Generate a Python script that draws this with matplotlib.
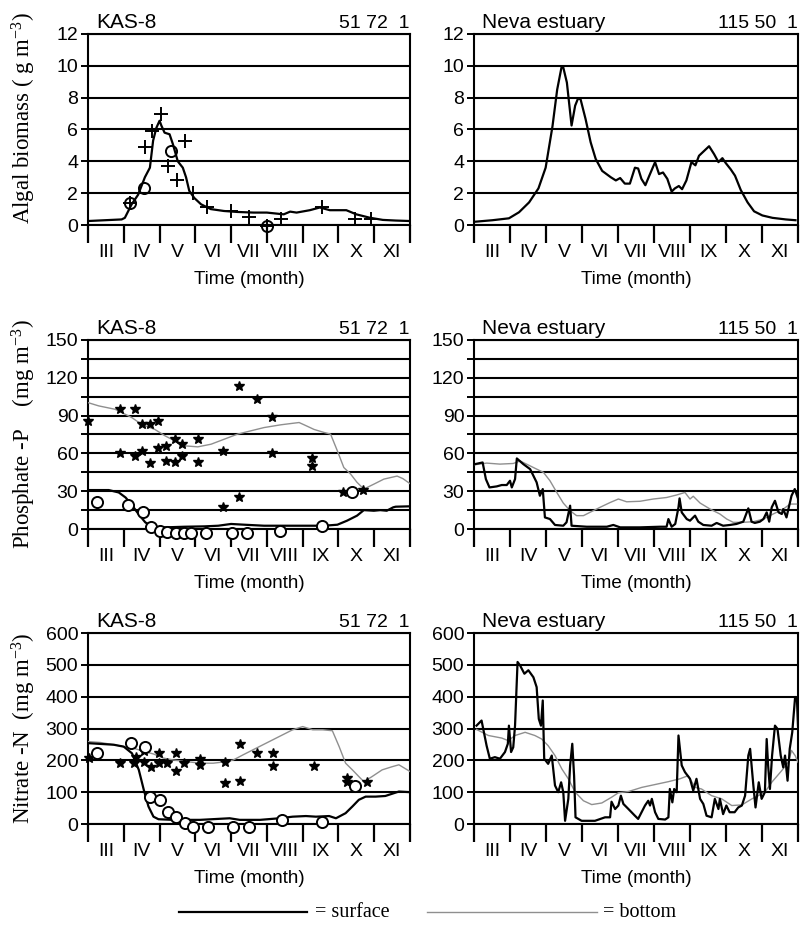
import numpy as np
import matplotlib
matplotlib.use('Agg')
import matplotlib.pyplot as plt
from matplotlib.lines import Line2D

plt.rcParams['font.family'] = ['Liberation Sans', 'DejaVu Sans']
plt.rcParams['mathtext.fontset'] = 'custom'
plt.rcParams['mathtext.rm'] = 'Liberation Serif'
plt.rcParams['mathtext.it'] = 'Liberation Serif:italic'

months = ['III', 'IV', 'V', 'VI', 'VII', 'VIII', 'IX', 'X', 'XI']

# ---------------- Algal biomass, KAS-8 ----------------
alg_kas_sx = [0, 0.94, 1.03, 1.22, 1.4, 1.59, 1.73, 1.82, 1.91, 2.0, 2.05, 2.14, 2.28, 2.37, 2.51, 2.65,
              2.74, 2.83, 2.97, 3.16, 3.43, 3.8, 4.17, 4.63, 5.0, 5.47, 5.65, 5.83, 6.2, 6.48, 6.76,
              7.22, 7.5, 7.87, 8.24, 8.6, 9.0]
alg_kas_sy = [0.25, 0.35, 0.45, 1.3, 1.9, 3.0, 3.6, 5.3, 6.1, 6.55, 6.25, 5.8, 5.7, 5.1, 4.0, 3.6,
              3.0, 2.15, 1.7, 1.3, 1.0, 0.88, 0.82, 0.78, 0.78, 0.67, 0.84, 0.78, 0.93, 1.1, 0.93,
              0.93, 0.67, 0.46, 0.32, 0.28, 0.25]
alg_kas_plus_x = [1.17, 1.59, 1.8, 2.03, 2.25, 2.48, 2.72, 2.93, 3.34, 4.0, 4.5, 5.0, 5.4, 6.53, 7.45, 7.91]
alg_kas_plus_y = [1.4, 4.9, 5.9, 6.95, 3.7, 2.8, 5.25, 2.0, 1.1, 0.85, 0.5, -0.05, 0.36, 1.14, 0.36, 0.4]
alg_kas_circ_x = [1.17, 1.56, 2.31, 5.0]
alg_kas_circ_y = [1.4, 2.3, 4.63, -0.06]

# ---------------- Algal biomass, Neva ----------------
alg_nev_sx = [0, 0.51, 0.97, 1.25, 1.53, 1.79, 1.99, 2.18, 2.31, 2.43, 2.48, 2.58, 2.71, 2.81, 2.89, 2.96,
              3.1, 3.24, 3.38, 3.56, 3.8, 3.94, 4.06, 4.19, 4.33, 4.47, 4.56, 4.65, 4.76, 4.87, 5.03,
              5.14, 5.25, 5.37, 5.49, 5.58, 5.69, 5.78, 5.9, 6.04, 6.15, 6.25, 6.39, 6.53, 6.67, 6.79,
              6.9, 6.99, 7.13, 7.25, 7.41, 7.6, 7.78, 8.01, 8.29, 8.66, 8.93]
alg_nev_sy = [0.2, 0.3, 0.42, 0.8, 1.42, 2.3, 3.6, 6.2, 8.5, 9.9, 9.9, 8.95, 6.25, 7.5, 7.95, 7.9,
              6.65, 5.2, 4.15, 3.4, 3.0, 2.8, 2.95, 2.6, 2.6, 3.6, 3.55, 2.9, 2.5, 3.1, 3.95,
              3.2, 3.3, 2.9, 2.1, 2.3, 2.45, 2.25, 2.8, 3.95, 3.75, 4.35, 4.65, 4.95, 4.45, 3.95,
              4.2, 3.9, 3.5, 3.1, 2.2, 1.42, 0.86, 0.6, 0.45, 0.35, 0.3]

# ---------------- Phosphate, KAS-8 ----------------
pho_kas_bx = [0, 0.3, 0.76, 1.22, 1.5, 1.87, 2.15, 2.42, 2.7, 3.07, 3.44, 3.81, 4.18, 4.55, 4.92, 5.39,
              5.67, 5.9, 6.04, 6.32, 6.6, 6.78, 6.97, 7.15, 7.34, 7.52, 7.71, 7.99, 8.27, 8.64, 8.8, 9.0]
pho_kas_by = [100.3, 97.7, 95, 88.5, 83, 79, 74, 70, 66, 65.2, 67.3, 71.3, 75.3, 77.9, 80.5, 82.7,
              83.7, 84.5, 82.7, 79, 76.6, 75.3, 62, 48.8, 43.6, 37, 31.7, 35.6, 39.6, 42, 40, 36]
pho_kas_sx = [0, 0.58, 0.86, 1.05, 1.22, 1.41, 1.6, 1.79, 2.15, 2.7, 3.26, 3.64, 4.0, 4.37, 4.92, 5.47,
              6.04, 6.6, 6.97, 7.24, 7.52, 7.71, 7.99, 8.17, 8.35, 8.53, 8.6, 9.0]
pho_kas_sy = [30.9, 30.9, 29, 25, 19.3, 11.9, 5.3, 1.8, 1.3, 1.8, 2.1, 2.6, 4.0, 3.4, 2.6, 2.6,
              2.6, 2.6, 3.4, 6.6, 10.6, 15, 14.5, 15, 14.5, 17.2, 17.7, 18]
pho_kas_star_x = [0, 0.9, 0.9, 1.3, 1.3, 1.5, 1.52, 1.73, 1.73, 1.95, 1.95, 2.17, 2.17, 2.42, 2.42,
                  2.62, 2.62, 3.08, 3.08, 3.76, 3.76, 4.22, 4.22, 4.71, 5.13, 5.13, 6.26, 6.26, 7.12, 7.69]
pho_kas_star_y = [85.8, 95, 60, 95, 58, 83.7, 62, 83.7, 52, 85.8, 64, 65.5, 54, 71.8, 53.3,
                  67.3, 58, 71.3, 53.3, 62, 17.7, 113.5, 25, 103.5, 89, 60, 56, 50, 29.6, 31]
pho_kas_circ_x = [0.25, 1.13, 1.54, 1.76, 2.0, 2.22, 2.45, 2.67, 2.88, 3.3, 4.02, 4.45, 5.36, 6.53, 7.39]
pho_kas_circ_y = [21.7, 19.3, 13.2, 1.3, -1.3, -2.6, -3.4, -3.4, -3.4, -2.9, -3.4, -3.2, -1.3, 2.1, 29.6]

# ---------------- Phosphate, Neva ----------------
pho_nev_bx = [0.03, 0.35, 0.72, 1.09, 1.28, 1.46, 1.65, 1.93, 2.11, 2.3, 2.48, 2.67, 2.85, 3.04, 3.22,
              3.5, 3.78, 4.01, 4.24, 4.61, 4.98, 5.35, 5.63, 5.86, 6.0, 6.09, 6.28, 6.56, 6.83, 7.02,
              7.2, 7.48, 7.76, 8.04, 8.31, 8.59, 8.78, 8.96]
pho_nev_by = [51, 52.3, 51.5, 52, 54, 51.5, 48.8, 44.9, 38.3, 29, 20.6, 14.5, 10.6, 10.6, 13.2,
              17.2, 21, 23.8, 21.6, 22, 23.8, 25, 27, 29, 23.8, 26, 20.6, 15.8, 11.9, 7.9,
              5.3, 5.3, 5.8, 7.9, 11.9, 15.8, 19.8, 19.8]
pho_nev_sx = [0.03, 0.24, 0.33, 0.43, 0.63, 0.77, 0.91, 1.0, 1.05, 1.14, 1.19, 1.37, 1.56, 1.74, 1.83,
              1.91, 1.97, 2.11, 2.25, 2.48, 2.57, 2.67, 2.71, 3.13, 3.69, 3.87, 4.06, 4.61, 5.17, 5.35,
              5.4, 5.49, 5.59, 5.68, 5.71, 5.77, 5.91, 6.0, 6.09, 6.14, 6.23, 6.37, 6.6, 6.74, 6.92,
              7.11, 7.29, 7.48, 7.62, 7.71, 7.8, 7.94, 8.04, 8.13, 8.2, 8.27, 8.36, 8.46, 8.55, 8.59,
              8.68, 8.82, 8.91, 8.99]
pho_nev_sy = [51.5, 52.8, 39.6, 33, 33.8, 34.9, 34.9, 38.3, 33, 39.6, 56, 51.5, 47.5, 37, 26.4,
              31.7, 9.2, 7.9, 3.2, 2.6, 5.3, 18.5, 2.6, 1.8, 1.8, 3.2, 1.3, 1.3, 1.8, 1.8,
              7.9, 1.8, 4.0, 17.2, 24.3, 13.2, 7.9, 6.6, 9.2, 10.6, 5.8, 3.2, 2.6, 4.8, 2.6,
              3.2, 4.0, 5.8, 16.4, 5.8, 4.8, 5.8, 7.9, 13.2, 5.8, 17.2, 22.4, 13.2, 11.9, 15.8,
              9.2, 26.4, 31.7, 25]

# ---------------- Nitrate, KAS-8 ----------------
nit_kas_bx = [0, 0.35, 0.72, 1.0, 1.28, 1.56, 1.83, 2.11, 2.39, 2.76, 3.13, 3.5, 3.87, 4.06, 4.33, 4.61,
              4.98, 5.35, 5.72, 6.0, 6.28, 6.56, 6.83, 7.02, 7.2, 7.39, 7.57, 7.71, 7.94, 8.22, 8.5,
              8.69, 9.0]
nit_kas_by = [259, 256, 249, 243, 238, 228, 220, 207, 201, 196, 191, 191, 196, 201, 217, 233,
              254, 275, 296, 306, 296, 296, 293, 243, 191, 170, 149, 133, 149, 170, 180,
              186, 165]
nit_kas_sx = [0, 0.72, 1.0, 1.23, 1.42, 1.56, 1.69, 1.83, 1.97, 2.39, 3.13, 3.96, 4.24, 4.81, 5.35, 5.72,
              6.09, 6.37, 6.74, 6.93, 7.2, 7.39, 7.57, 7.76, 8.04, 8.31, 8.69, 9.0]
nit_kas_sy = [254, 249, 243, 222, 170, 107, 55, 23, 15, 13, 13, 18, 13, 13, 18, 23,
              25, 23, 25, 18, 34, 55, 76, 86, 86, 88, 102, 100]
nit_kas_star_x = [0.03, 0.89, 1.29, 1.33, 1.57, 1.57, 1.75, 1.99, 1.99, 2.22, 2.47, 2.47, 2.68, 3.13,
                  3.13, 3.82, 3.82, 4.25, 4.25, 4.73, 5.18, 5.18, 6.32, 7.23, 7.23, 7.79]
nit_kas_star_y = [207, 191, 191, 212, 228, 196, 180, 224, 191, 191, 222, 165, 191, 203,
                  186, 196, 130, 252, 136, 224, 222, 183, 183, 144, 133, 133]
nit_kas_circ_x = [0.26, 1.19, 1.58, 1.74, 2.0, 2.23, 2.45, 2.71, 2.93, 3.36, 4.06, 4.5, 5.43, 6.54, 7.46]
nit_kas_circ_y = [224, 256, 243, 86, 76, 39, 21, 2, -8, -8, -8, -8, 13, 7, 120]

# ---------------- Nitrate, Neva ----------------
nit_nev_bx = [0.07, 0.4, 0.77, 0.95, 1.14, 1.42, 1.69, 1.88, 2.06, 2.25, 2.44, 2.62, 2.81, 3.04, 3.27,
              3.55, 3.82, 4.01, 4.29, 4.66, 5.03, 5.4, 5.72, 5.95, 6.14, 6.32, 6.6, 6.88, 7.16, 7.44,
              7.72, 7.9, 8.08, 8.27, 8.55, 8.73, 8.82, 8.92, 9.0]
nit_nev_by = [297, 278, 270, 262, 278, 288, 278, 267, 246, 215, 173, 142, 100, 73, 61,
              66, 84, 98, 102, 115, 124, 133, 142, 152, 115, 110, 89, 79, 58, 60,
              79, 89, 100, 131, 168, 194, 231, 215, 194]
nit_nev_sx = [0.07, 0.21, 0.35, 0.44, 0.58, 0.72, 0.86, 0.94, 0.97, 1.03, 1.09, 1.14, 1.21, 1.28, 1.4,
              1.51, 1.65, 1.74, 1.8, 1.86, 1.91, 1.95, 2.06, 2.16, 2.25, 2.34, 2.42, 2.48, 2.53, 2.62,
              2.67, 2.73, 2.78, 2.82, 2.99, 3.36, 3.64, 3.78, 3.82, 3.92, 4.01, 4.08, 4.15, 4.29, 4.47,
              4.56, 4.75, 4.84, 4.89, 4.94, 5.03, 5.12, 5.31, 5.4, 5.44, 5.51, 5.56, 5.63, 5.68, 5.77,
              5.86, 6.0, 6.09, 6.18, 6.28, 6.37, 6.46, 6.6, 6.69, 6.79, 6.83, 6.92, 7.01, 7.1, 7.24,
              7.34, 7.44, 7.53, 7.62, 7.67, 7.76, 7.82, 7.91, 7.99, 8.08, 8.13, 8.17, 8.22, 8.28, 8.36,
              8.43, 8.52, 8.59, 8.64, 8.71, 8.77, 8.84, 8.92, 8.97, 9.0]
nit_nev_sy = [309, 325, 246, 205, 210, 205, 226, 252, 309, 226, 241, 309, 509, 498, 472,
              483, 461, 430, 330, 309, 388, 205, 189, 215, 121, 100, 131, 100, 10, 79,
              184, 252, 152, 21, 10, 10, 21, 21, 70, 47, 58, 89, 63, 47, 26,
              16, 58, 73, 58, 79, 37, 16, 14, 21, 110, 68, 110, 100, 278, 184,
              163, 142, 105, 142, 79, 63, 26, 21, 79, 47, 79, 31, 58, 37, 37,
              52, 58, 89, 215, 236, 121, 52, 131, 79, 100, 267, 184, 110, 215, 309,
              299, 215, 178, 215, 136, 236, 288, 399, 393, 309]

# ---------------- figure ----------------
fig = plt.figure(figsize=(8.04, 9.38), dpi=100)

col_left = [88 / 804, 474 / 804]
col_w = [322 / 804, 324 / 804]
rows = [(1 - 225 / 938, 191 / 938), (1 - 529 / 938, 189 / 938), (1 - 824 / 938, 191 / 938)]

SURF = dict(color='black', lw=1.6, zorder=4)
BOT = dict(color='#8f8f8f', lw=1.0, zorder=3)


def setup(ax, ymax, major, minor, left_title, right_title, ylabel=None, ylab_y=0.5):
    ax.set_xlim(0, 9)
    ax.set_ylim(0, ymax)
    ax.set_yticks(np.arange(0, ymax + 0.001, major))
    ax.set_yticks(np.arange(0, ymax + 0.001, minor), minor=True)
    ax.set_xticks(np.arange(0, 10, 1))
    ax.set_xticklabels([])
    ax.set_xticks(np.arange(0.5, 9, 1), minor=True)
    ax.set_xticklabels(months, minor=True, fontsize=14)
    ax.tick_params(axis='x', which='major', length=13, width=1.6, direction='out', color='black')
    ax.tick_params(axis='x', which='minor', length=0, pad=14)
    ax.tick_params(axis='y', which='both', length=5, width=1.4, labelsize=14, pad=2)
    ax.yaxis.grid(True, which='both', color='black', lw=1.5)
    ax.set_axisbelow(True)
    for s in ax.spines.values():
        s.set_linewidth(1.5)
    ax.set_xlabel('Time (month)', fontsize=13.5, labelpad=7)
    ax.text(0.025, 1.012, left_title, transform=ax.transAxes, ha='left', va='bottom', fontsize=15)
    ax.text(1.0, 1.012, right_title, transform=ax.transAxes, ha='right', va='bottom', fontsize=14)
    if ylabel:
        ax.set_ylabel(ylabel, fontsize=16.5, family='Liberation Serif')
        ax.yaxis.set_label_coords(-0.155, ylab_y)


def add_axes(r, c):
    b, h = rows[r]
    return fig.add_axes([col_left[c], b, col_w[c], h])


# Row 1: algal biomass
ax = add_axes(0, 0)
setup(ax, 12, 2, 2, 'KAS-8', '51 72  1', 'Algal biomass ( g m$^{-3}$)', 0.56)
ax.plot(alg_kas_sx, alg_kas_sy, **SURF)
ax.plot(alg_kas_plus_x, alg_kas_plus_y, ls='none', marker='+', ms=10, mew=1.4, color='black',
        zorder=5, clip_on=False)
ax.plot(alg_kas_circ_x, alg_kas_circ_y, ls='none', marker='o', ms=8, mfc='none', mew=1.4,
        color='black', zorder=5, clip_on=False)

ax = add_axes(0, 1)
setup(ax, 12, 2, 2, 'Neva estuary', '115 50  1')
ax.plot(alg_nev_sx, alg_nev_sy, **SURF)

# Row 2: phosphate
ax = add_axes(1, 0)
setup(ax, 150, 30, 15, 'KAS-8', '51 72  1', 'Phosphate -P    (mg m$^{-3}$)', 0.5)
ax.plot(pho_kas_bx, pho_kas_by, **BOT)
ax.plot(pho_kas_sx, pho_kas_sy, **SURF)
ax.plot(pho_kas_star_x, pho_kas_star_y, ls='none', marker='*', ms=7, color='black', zorder=5,
        clip_on=False)
ax.plot(pho_kas_circ_x, pho_kas_circ_y, ls='none', marker='o', ms=8, mfc='white', mew=1.4,
        color='black', zorder=5, clip_on=False)

ax = add_axes(1, 1)
setup(ax, 150, 30, 15, 'Neva estuary', '115 50  1')
ax.plot(pho_nev_bx, pho_nev_by, **BOT)
ax.plot(pho_nev_sx, pho_nev_sy, **SURF)

# Row 3: nitrate
ax = add_axes(2, 0)
setup(ax, 600, 100, 100, 'KAS-8', '51 72  1', 'Nitrate -N  (mg m$^{-3}$)', 0.5)
ax.plot(nit_kas_bx, nit_kas_by, **BOT)
ax.plot(nit_kas_sx, nit_kas_sy, **SURF)
ax.plot(nit_kas_star_x, nit_kas_star_y, ls='none', marker='*', ms=7, color='black', zorder=5,
        clip_on=False)
ax.plot(nit_kas_circ_x, nit_kas_circ_y, ls='none', marker='o', ms=8, mfc='white', mew=1.4,
        color='black', zorder=5, clip_on=False)

ax = add_axes(2, 1)
setup(ax, 600, 100, 100, 'Neva estuary', '115 50  1')
ax.plot(nit_nev_bx, nit_nev_by, **BOT)
ax.plot(nit_nev_sx, nit_nev_sy, **SURF)

# Legend
ly = 1 - 912 / 938
fig.add_artist(Line2D([179 / 804, 307 / 804], [ly, ly], transform=fig.transFigure, **SURF))
fig.text(315 / 804, ly, '= surface', fontsize=14.5, family='Liberation Serif', va='center', ha='left')
fig.add_artist(Line2D([427 / 804, 597 / 804], [ly, ly], transform=fig.transFigure, **BOT))
fig.text(603 / 804, ly, '= bottom', fontsize=14.5, family='Liberation Serif', va='center', ha='left')

fig.savefig('out.png', dpi=100)
